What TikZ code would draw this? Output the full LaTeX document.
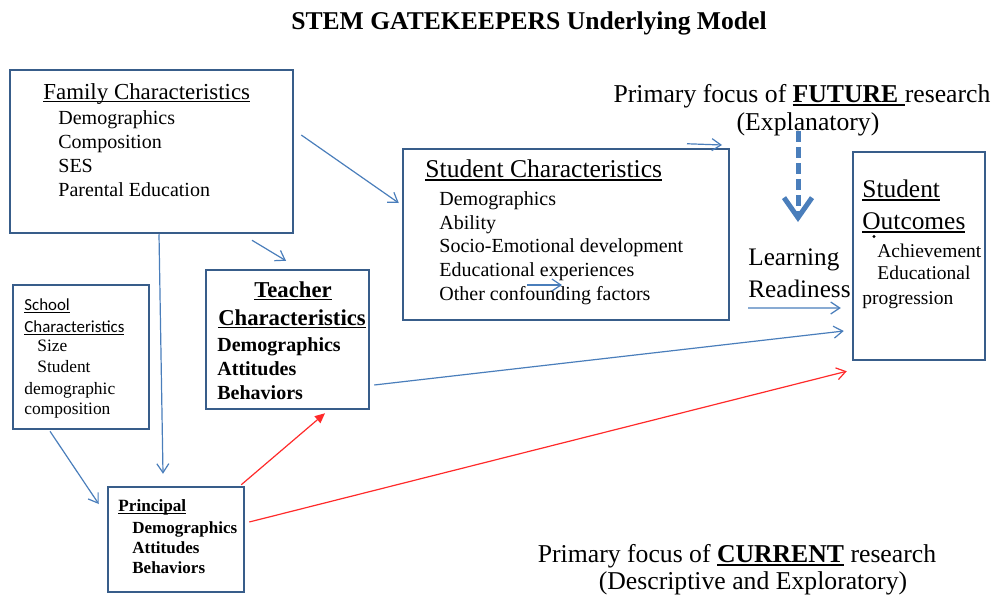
\documentclass[tikz,border=0pt]{standalone}
\usepackage{fontspec}
\setmainfont{Liberation Serif}
\newfontfamily\calib{Carlito}
\usetikzlibrary{arrows.meta,fit}
\definecolor{boxblue}{HTML}{385D8A}
\definecolor{arrblue}{HTML}{4A7EBB}
\definecolor{arrred}{HTML}{FF2A2A}
\newcommand{\fs}[1]{\fontsize{#1}{#1}\selectfont}
\newcommand{\undl}[1]{\setbox0=\hbox{#1}\rlap{\rule[-0.13em]{\wd0}{0.055em}}\box0\relax}
\tikzset{
  box/.style={draw=boxblue, line width=1.25pt, inner sep=0pt},
  txt/.style={inner sep=0pt, anchor=mid west, yshift=-1.4pt},
  ctxt/.style={inner sep=0pt, anchor=mid, yshift=-1.4pt},
  link/.style={draw=arrblue, line width=0.6pt, -{Straight Barb[length=4.5pt,width=6pt]}},
  redlink/.style={draw=arrred, line width=0.6pt, -{Straight Barb[length=4.5pt,width=6pt]}},
  redtri/.style={draw=arrred, line width=0.6pt, -{Triangle[length=5pt,width=4.5pt]}},
  dashlink/.style={draw=arrblue, line width=2.5pt, dash pattern=on 5.5pt off 2.5pt,
    -{Straight Barb[length=10pt,width=14pt]}}
}

\begin{document}
\begin{tikzpicture}[x=0.5pt,y=-0.5pt]
  \useasboundingbox (0,0) rectangle (997,600);

  \node[ctxt, font=\bfseries\fs{12.8pt}] (title) at (529,22) {STEM GATEKEEPERS Underlying Model};

  % boxes
  \node[box, fit={(10,70)(293,233)}] (fam) {};
  \node[box, fit={(403,149)(729,320)}] (stud) {};
  \node[box, fit={(206,270)(369,409)}] (tea) {};
  \node[box, fit={(13,285)(149,429)}] (sch) {};
  \node[box, fit={(108,487)(244,592)}] (prin) {};
  \node[box, fit={(853,152)(985,360)}] (outc) {};

  % family
  \node[txt, font=\fs{11.45pt}] (famT) at (43,92) {\undl{Family Characteristics}};
  \foreach \t [count=\i] in {Demographics, Composition, SES, Parental Education}
    \node[txt, font=\fs{10pt}] (famI\i) at (58,{93+24*\i}) {\t};

  % student
  \node[txt, font=\fs{12.8pt}] (studT) at (425,170) {\undl{Student Characteristics}};
  \foreach \t [count=\i] in {Demographics, Ability, Socio-Emotional development,
      Educational experiences, Other confounding factors}
    \node[txt, font=\fs{10pt}] (studI\i) at (439,{174.5+23.7*\i}) {\t};

  % teacher
  \node[ctxt, font=\bfseries\fs{11.35pt}] (teaT1) at (293,290) {\undl{Teacher}};
  \node[ctxt, font=\bfseries\fs{11.35pt}] (teaT2) at (292,318) {\undl{Characteristics}};
  \foreach \t [count=\i] in {Demographics, Attitudes, Behaviors}
    \node[txt, font=\bfseries\fs{10pt}] (teaI\i) at (217,{320+24*\i}) {\t};

  % school
  \node[txt, font=\calib\fs{8.45pt}] (schT1) at (24,303) {\undl{School}};
  \node[txt, font=\calib\fs{8.45pt}] (schT2) at (24,325) {\undl{Characteristics}};
  \node[txt, font=\fs{8.7pt}] (schI1) at (37,344) {Size};
  \node[txt, font=\fs{8.7pt}] (schI2) at (37,365) {Student};
  \node[txt, font=\fs{8.7pt}] (schI3) at (24,387) {demographic};
  \node[txt, font=\fs{8.7pt}] (schI4) at (24,407) {composition};

  % principal
  \node[txt, font=\bfseries\fs{8.6pt}] (prinT) at (118,504) {\undl{Principal}};
  \foreach \t [count=\i] in {Demographics, Attitudes, Behaviors}
    \node[txt, font=\bfseries\fs{8.5pt}] (prinI\i) at (132,{506+20*\i}) {\t};

  % outcomes
  \node[txt, font=\fs{12.7pt}] (outcT1) at (862,190) {\undl{Student}};
  \node[txt, font=\fs{12.7pt}] (outcT2) at (862,222) {\undl{Outcomes}};
  \fill (874,236.5) circle (1.6);
  \node[txt, font=\fs{9.75pt}] (outcI1) at (877,250) {Achievement};
  \node[txt, font=\fs{9.75pt}] (outcI2) at (877,272) {Educational};
  \node[txt, font=\fs{9.75pt}] (outcI3) at (862,297) {progression};

  \node[txt, font=\fs{12.6pt}] (learn) at (748,258) {Learning};
  \node[txt, font=\fs{12.6pt}] (ready) at (748,290) {Readiness};

  % focus notes
  \node[ctxt, font=\fs{12.85pt}] (future) at (802,95) {Primary focus of \undl{\textbf{FUTURE} }research};
  \node[ctxt, font=\fs{12.85pt}] (explan) at (808,123) {(Explanatory)};
  \node[ctxt, font=\fs{12.85pt}] (current) at (737,555) {Primary focus of \undl{\textbf{CURRENT}} research};
  \node[ctxt, font=\fs{12.85pt}] (descr) at (753,582) {(Descriptive and Exploratory)};

  \coordinate (topTip) at (722,145);
  \coordinate (midTip) at (562,285);
  \coordinate (focusTip) at (798,222);

  % links
  \draw[link] ([shift={(7,-16.5)}]fam.east) -- ([shift={(-3,-31.5)}]stud.west);
  \draw[link] ([shift={(100.5,6)}]fam.south) -- ([shift={(-1.5,-8)}]tea.north);
  \draw[link] ([shift={(7.5,0)}]fam.south) -- ([shift={(-13,-12)}]prin.north);
  \draw[link] ([shift={(-31,1)}]sch.south) -- ([shift={(-8,-35.5)}]prin.west);
  \draw[link] ([shift={(4,45.5)}]tea.east) -- ([shift={(-8,75)}]outc.west);
  \draw[link] ([shift={(0,15.2)}]ready.mid west) -- ([shift={(-11,52)}]outc.west);
  \draw[link] ([shift={(121,-4)}]stud.north) -- (topTip);
  \draw[link] ([shift={(-39,50.5)}]stud.center) -- (midTip);
  \draw[redtri] ([shift={(-4,-1)}]prin.north east) -- ([shift={(37.5,3)}]tea.south);
  \draw[redlink] ([shift={(4,-17.5)}]prin.east) -- ([shift={(-5,10)}]outc.south west);
  \draw[dashlink] ([shift={(-10,7.2)}]explan.center) -- (focusTip);
\end{tikzpicture}
\end{document}
